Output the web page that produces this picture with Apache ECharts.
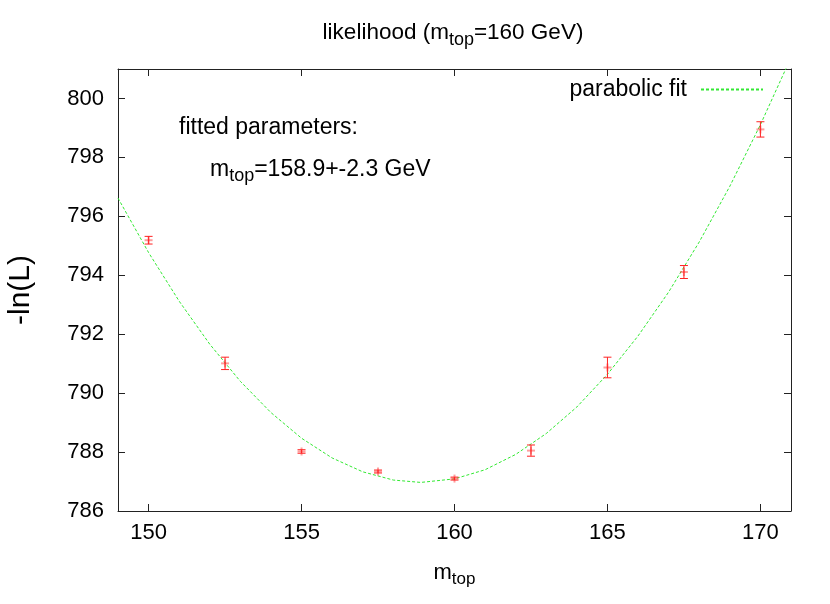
<!DOCTYPE html>
<html>
<head>
<meta charset="utf-8">
<script src="https://cdn.jsdelivr.net/npm/echarts@6/dist/echarts.min.js"></script>
<style>
  html, body { margin: 0; padding: 0; background: #fff; }
  #chart { width: 830px; height: 604px; }
</style>
</head>
<body>
<div id="chart"></div>
<script>
// measured points: -ln(L) vs generated top mass
const massPoints = [150, 152.5, 155, 157.5, 160, 162.5, 165, 167.5, 170];
const negLogL = [795.19, 791.01, 788.02, 787.34, 787.10, 788.05, 790.87, 794.11, 798.95];
const negLogLErr = [0.13, 0.21, 0.06, 0.05, 0.05, 0.19, 0.35, 0.22, 0.26];

// parabolic fit curve
const fitMass = [149, 150, 151, 152, 153, 154, 155, 156, 157, 158, 158.9, 160, 161, 162, 163, 164, 165, 166, 167, 168, 169, 170, 171];
const fitValues = [796.62, 794.77, 793.12, 791.66, 790.40, 789.34, 788.47, 787.80, 787.33, 787.05, 786.97, 787.09, 787.40, 787.92, 788.63, 789.53, 790.64, 791.94, 793.43, 795.13, 797.02, 799.11, 801.39];

const xTicks = [150, 155, 160, 165, 170];
const yTicks = [786, 788, 790, 792, 794, 796, 798, 800];

const font = 'Liberation Sans';
const frameColor = '#222';

const errData = massPoints.map((m, i) => [m, negLogL[i] - negLogLErr[i], negLogL[i] + negLogLErr[i], negLogL[i]]);
const fitData = fitMass.map((m, i) => [m, fitValues[i]]);

function subRich(size) {
  return {
    n: { fontFamily: font, fontSize: size, fontWeight: 'normal', color: '#000' },
    s: { fontFamily: font, fontSize: Math.round(size * 0.78), fontWeight: 'normal', color: '#000', padding: [14, 0, 0, 0] }
  };
}

const chart = echarts.init(document.getElementById('chart'));

const tickStyle = { inside: true, length: 7, lineStyle: { color: frameColor } };

chart.setOption({
  animation: false,
  backgroundColor: '#fff',
  title: {
    text: '{n|likelihood (m}{s|top}{n|=160 GeV)}',
    left: 448,
    top: 12,
    textAlign: 'center',
    textStyle: { fontWeight: 'normal', rich: subRich(22.5) }
  },
  legend: {
    data: ['parabolic fit'],
    right: 61,
    top: 73,
    align: 'right',
    itemWidth: 62,
    itemHeight: 14,
    itemStyle: { opacity: 0 },
    textStyle: { fontFamily: font, fontSize: 23, color: '#000', padding: [0, 9, 0, 0] }
  },
  grid: { left: 118, right: 39, top: 69, bottom: 93, outerBoundsMode: 'none' },
  xAxis: [
    {
      type: 'value',
      min: 149,
      max: 171,
      name: '{n|m}{s|top}',
      nameLocation: 'middle',
      nameGap: 46,
      nameTextStyle: { rich: subRich(22) },
      axisLine: { show: true, onZero: false, lineStyle: { color: frameColor } },
      axisTick: Object.assign({ customValues: xTicks }, tickStyle),
      axisLabel: { customValues: xTicks, margin: 11, fontFamily: font, fontSize: 22, color: '#000' },
      splitLine: { show: false }
    },
    {
      type: 'value',
      position: 'top',
      min: 149,
      max: 171,
      axisLine: { show: true, onZero: false, lineStyle: { color: frameColor } },
      axisTick: Object.assign({ customValues: xTicks }, tickStyle),
      axisLabel: { show: false },
      splitLine: { show: false }
    }
  ],
  yAxis: [
    {
      type: 'value',
      min: 786,
      max: 801,
      name: '-ln(L)',
      nameLocation: 'middle',
      nameGap: 82,
      nameRotate: 90,
      nameTextStyle: { fontFamily: font, fontSize: 30, color: '#000' },
      axisLine: { show: true, onZero: false, lineStyle: { color: frameColor } },
      axisTick: Object.assign({ customValues: yTicks }, tickStyle),
      axisLabel: { customValues: yTicks, margin: 14, fontFamily: font, fontSize: 22, color: '#000' },
      splitLine: { show: false }
    },
    {
      type: 'value',
      position: 'right',
      min: 786,
      max: 801,
      axisLine: { show: true, onZero: false, lineStyle: { color: frameColor } },
      axisTick: Object.assign({ customValues: yTicks }, tickStyle),
      axisLabel: { show: false },
      splitLine: { show: false }
    }
  ],
  graphic: [
    {
      type: 'text',
      left: 179,
      top: 116,
      style: { text: 'fitted parameters:', font: '23px "Liberation Sans"', fill: '#000' }
    },
    {
      type: 'text',
      left: 210,
      top: 158,
      style: { text: '{n|m}{s|top}{n|=158.9+-2.3 GeV}', rich: subRich(23) }
    }
  ],
  series: [
    {
      name: 'parabolic fit',
      type: 'line',
      data: fitData,
      symbol: 'none',
      clip: true,
      lineStyle: { color: '#33e833', width: 1, type: [3, 2] },
      itemStyle: { color: '#33e833' },
      emphasis: { disabled: true },
      z: 3
    },
    {
      name: 'data',
      type: 'custom',
      data: errData,
      clip: true,
      z: 4,
      renderItem: function (params, api) {
        const x = api.value(0);
        const lo = api.coord([x, api.value(1)]);
        const hi = api.coord([x, api.value(2)]);
        const mid = api.coord([x, api.value(3)]);
        const cap = 4;
        const red = { stroke: '#ff2222', lineWidth: 1 };
        const pale = { stroke: 'rgba(255,40,40,0.45)', lineWidth: 2 };
        return {
          type: 'group',
          children: [
            { type: 'line', shape: { x1: lo[0], y1: lo[1], x2: hi[0], y2: hi[1] }, style: red },
            { type: 'line', shape: { x1: lo[0] - cap, y1: lo[1], x2: lo[0] + cap, y2: lo[1] }, style: red },
            { type: 'line', shape: { x1: hi[0] - cap, y1: hi[1], x2: hi[0] + cap, y2: hi[1] }, style: red },
            { type: 'line', shape: { x1: mid[0] - 4, y1: mid[1], x2: mid[0] + 4, y2: mid[1] }, style: pale },
            { type: 'line', shape: { x1: mid[0], y1: mid[1] - 4, x2: mid[0], y2: mid[1] + 4 }, style: pale }
          ]
        };
      }
    }
  ]
});
</script>
</body>
</html>
